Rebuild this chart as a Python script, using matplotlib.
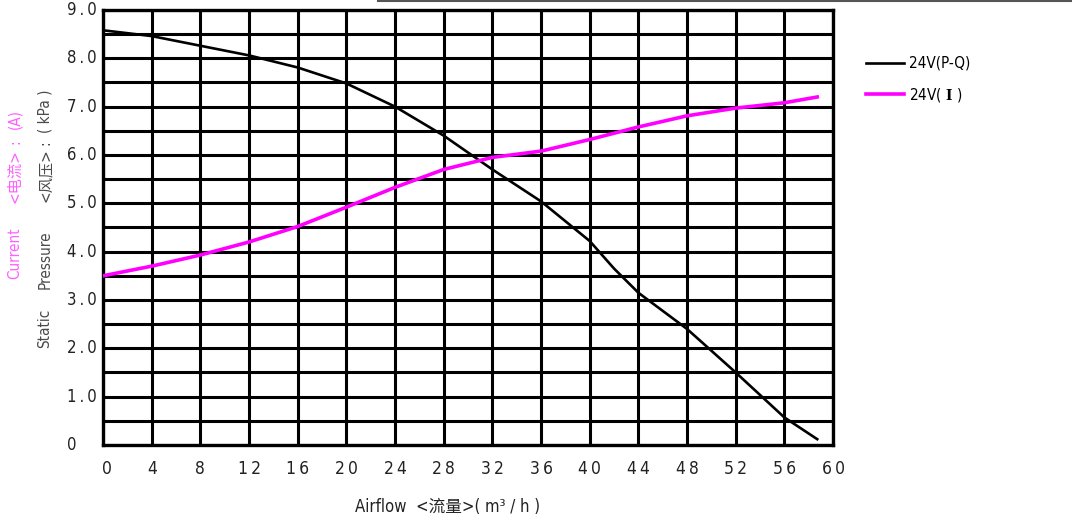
import matplotlib
matplotlib.use('Agg')
import matplotlib.pyplot as plt
from matplotlib.lines import Line2D

# dados
vazao = [0, 4, 8, 12, 16, 20, 24, 28, 32, 36, 40, 42, 44, 48, 52, 56, 58.7]
pressao = [8.58, 8.46, 8.26, 8.06, 7.81, 7.48, 7.0, 6.4, 5.7, 5.04, 4.22, 3.65, 3.15, 2.4, 1.5, 0.57, 0.12]
corrente = [3.5, 3.7, 3.93, 4.2, 4.52, 4.92, 5.33, 5.7, 5.95, 6.08, 6.32, 6.45, 6.58, 6.81, 6.97, 7.08, 7.2]

x_ticks = list(range(0, 61, 4))
y_ticks = [0, 1, 2, 3, 4, 5, 6, 7, 8, 9]
y_labels = ['0', '1.0', '2.0', '3.0', '4.0', '5.0', '6.0', '7.0', '8.0', '9.0']

# pedaços dos títulos do eixo y (texto, altura em px a partir do topo)
titulo_pressao = [('Static', 328), ('Pressure', 260), ('<风压>', 175), (':', 143), ('( kPa )', 111)]
titulo_corrente = [('Current', 253), ('<电流>', 176), (':', 142), ('(A)', 119)]

TS = '\u2009'  # espaço fino

plt.rcParams['font.family'] = ['DejaVu Sans', 'Noto Sans CJK SC']
plt.rcParams['font.stretch'] = 'condensed'
plt.rcParams['mathtext.fontset'] = 'dejavuserif'

fig = plt.figure(figsize=(10.72, 5.25), dpi=100)
ax = fig.add_axes([0.0961, 0.1524, 0.681, 0.8286])

ax.plot(vazao, pressao, color='black', linewidth=1.9, label='24V(P-Q)', zorder=3)
ax.plot(vazao, corrente, color='#ff00ff', linewidth=2.6, label=r'24V( $\mathbf{I}$ )', zorder=3)

ax.set_xlim(0, 60)
ax.set_ylim(0, 9)
ax.set_xticks(range(0, 61, 4))
ax.set_yticks([v / 2 for v in range(0, 19)])
ax.grid(True, which='major', color='black', linewidth=2.2)
ax.tick_params(length=0, labelleft=False, labelbottom=False)
for s in ax.spines.values():
    s.set_linewidth(2.4)

# rótulos dos eixos (texto espaçado)
for v in x_ticks:
    ax.text(v + (0.3 if v == 0 else 0), -0.5, TS.join(str(v)), ha='center', va='center',
            fontsize=12.5, color='#222222')
for v, lab in zip(y_ticks, y_labels):
    ax.text(-2.95, v, TS.join(lab), ha='left', va='center', fontsize=12, color='#222222')

fig.text(0.331, 0.034, 'Airflow  <流量>( m³ / h )', ha='left', va='center',
         fontsize=12, color='#222222')

H = 525
for txt, py in titulo_pressao:
    fig.text(45 / 1072, 1 - py / H, txt, rotation=90, ha='center', va='center',
             fontsize=11, color='#4a4a4a')
for txt, py in titulo_corrente:
    fig.text(15 / 1072, 1 - py / H, txt, rotation=90, ha='center', va='center',
             fontsize=11, color='#ff60ff')

fig.legend(loc='upper left', bbox_to_anchor=(0.802, 0.905), frameon=False, fontsize=11,
           handlelength=2.5, handletextpad=0.3, labelspacing=1.0, borderaxespad=0)

# linha cinza no topo
fig.add_artist(Line2D([0.353, 1.0], [0.998, 0.998], color='#555555', linewidth=1.5))

fig.savefig('out.png', dpi=100)
